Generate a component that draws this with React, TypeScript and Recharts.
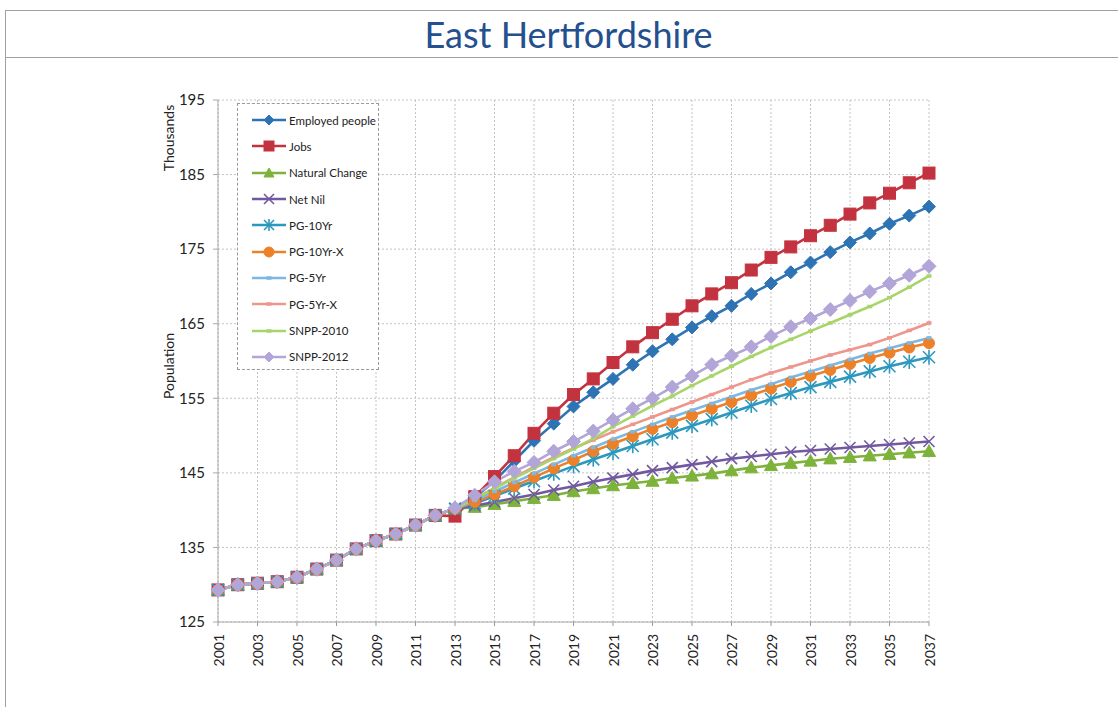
import React from 'react';
import { LineChart, Line, XAxis, YAxis, CartesianGrid } from 'recharts';

const years = [2001, 2002, 2003, 2004, 2005, 2006, 2007, 2008, 2009, 2010, 2011, 2012, 2013, 2014, 2015, 2016, 2017, 2018, 2019, 2020, 2021, 2022, 2023, 2024, 2025, 2026, 2027, 2028, 2029, 2030, 2031, 2032, 2033, 2034, 2035, 2036, 2037];
const xTicks = [2001, 2003, 2005, 2007, 2009, 2011, 2013, 2015, 2017, 2019, 2021, 2023, 2025, 2027, 2029, 2031, 2033, 2035, 2037];
const yTicks = [125, 135, 145, 155, 165, 175, 185, 195];

// 2001-2012 shared history
const historic = [129.3, 130.0, 130.2, 130.4, 131.0, 132.1, 133.3, 134.8, 135.9, 136.8, 138.0, 139.3];

// 2013-2037 projections
const employedPeople = [140.2, 141.7, 143.9, 146.6, 149.3, 151.6, 153.9, 155.8, 157.6, 159.5, 161.3, 162.9, 164.5, 166.0, 167.4, 169.0, 170.4, 171.9, 173.2, 174.6, 175.9, 177.1, 178.4, 179.5, 180.7];
const jobs = [139.2, 141.8, 144.5, 147.3, 150.3, 153.0, 155.5, 157.6, 159.8, 161.9, 163.8, 165.6, 167.4, 169.0, 170.5, 172.2, 173.9, 175.3, 176.8, 178.2, 179.7, 181.2, 182.5, 183.9, 185.2];
const naturalChange = [140.2, 140.4, 140.8, 141.2, 141.6, 142.0, 142.5, 142.9, 143.3, 143.6, 143.9, 144.3, 144.6, 144.9, 145.3, 145.7, 146.0, 146.3, 146.6, 146.9, 147.1, 147.3, 147.5, 147.7, 147.9];
const netNil = [140.2, 140.6, 141.1, 141.6, 142.1, 142.7, 143.2, 143.8, 144.3, 144.8, 145.3, 145.7, 146.1, 146.5, 146.9, 147.2, 147.5, 147.8, 148.0, 148.2, 148.4, 148.6, 148.8, 149.0, 149.2];
const pg10Yr = [140.2, 140.9, 141.9, 142.9, 143.9, 144.9, 145.9, 146.8, 147.7, 148.6, 149.5, 150.4, 151.3, 152.2, 153.1, 154.0, 154.9, 155.7, 156.5, 157.2, 157.9, 158.6, 159.3, 159.9, 160.5];
const pg10YrX = [140.2, 141.1, 142.1, 143.2, 144.4, 145.6, 146.7, 147.9, 148.9, 149.9, 150.9, 151.8, 152.7, 153.6, 154.5, 155.4, 156.3, 157.2, 158.0, 158.8, 159.6, 160.4, 161.1, 161.8, 162.4];
const pg5Yr = [140.2, 141.3, 142.5, 143.7, 144.9, 146.1, 147.3, 148.4, 149.5, 150.5, 151.5, 152.5, 153.4, 154.3, 155.2, 156.1, 156.9, 157.8, 158.6, 159.4, 160.2, 161.0, 161.7, 162.4, 163.1];
const pg5YrX = [140.2, 141.5, 143.0, 144.4, 145.8, 147.1, 148.3, 149.4, 150.5, 151.5, 152.5, 153.5, 154.5, 155.5, 156.5, 157.5, 158.4, 159.2, 160.0, 160.8, 161.5, 162.2, 163.1, 164.1, 165.1];
const snpp2010 = [140.2, 141.5, 142.9, 144.3, 145.6, 146.9, 148.2, 149.6, 151.2, 152.6, 154.0, 155.3, 156.7, 158.0, 159.3, 160.6, 161.8, 162.9, 164.0, 165.1, 166.2, 167.3, 168.5, 169.9, 171.4];
const snpp2012 = [140.3, 142.0, 143.8, 145.2, 146.4, 147.9, 149.2, 150.6, 152.1, 153.6, 155.0, 156.5, 158.0, 159.5, 160.7, 161.9, 163.3, 164.6, 165.7, 166.9, 168.1, 169.3, 170.4, 171.5, 172.7];

type Shape = 'diamond' | 'square' | 'triangle' | 'x' | 'asterisk' | 'circle' | 'dash';

const seriesList: { key: string; name: string; values: number[]; color: string; shape: Shape; size: number }[] = [
  { key: 'employed', name: 'Employed people', values: employedPeople, color: '#2E74B5', shape: 'diamond', size: 6.5 },
  { key: 'jobs', name: 'Jobs', values: jobs, color: '#C3333F', shape: 'square', size: 6 },
  { key: 'natural', name: 'Natural Change', values: naturalChange, color: '#7DB33A', shape: 'triangle', size: 6.5 },
  { key: 'netnil', name: 'Net Nil', values: netNil, color: '#7158A0', shape: 'x', size: 5.5 },
  { key: 'pg10', name: 'PG-10Yr', values: pg10Yr, color: '#2C98BE', shape: 'asterisk', size: 6 },
  { key: 'pg10x', name: 'PG-10Yr-X', values: pg10YrX, color: '#EC8129', shape: 'circle', size: 5.5 },
  { key: 'pg5', name: 'PG-5Yr', values: pg5Yr, color: '#7DB7E3', shape: 'dash', size: 2.5 },
  { key: 'pg5x', name: 'PG-5Yr-X', values: pg5YrX, color: '#EE958C', shape: 'dash', size: 2.5 },
  { key: 'snpp2010', name: 'SNPP-2010', values: snpp2010, color: '#A8D56A', shape: 'dash', size: 2.5 },
  { key: 'snpp2012', name: 'SNPP-2012', values: snpp2012, color: '#B2A6D8', shape: 'diamond', size: 7 },
];

const tableData = years.map((year, i) => {
  const row: Record<string, number> = { year };
  seriesList.forEach((s) => {
    row[s.key] = i < historic.length ? historic[i] : s.values[i - historic.length];
  });
  return row;
});

function marker(shape: Shape, color: string, s: number, cx: number, cy: number, key?: any) {
  switch (shape) {
    case 'diamond':
      return <polygon key={key} points={`${cx},${cy - s} ${cx + s},${cy} ${cx},${cy + s} ${cx - s},${cy}`} fill={color} stroke={color} strokeWidth={1} />;
    case 'square':
      return <rect key={key} x={cx - s} y={cy - s} width={2 * s} height={2 * s} fill={color} stroke={color} strokeWidth={1} />;
    case 'triangle':
      return <polygon key={key} points={`${cx},${cy - s} ${cx + s},${cy + s * 0.8} ${cx - s},${cy + s * 0.8}`} fill={color} stroke={color} strokeWidth={1} />;
    case 'x':
      return (
        <g key={key} stroke={color} strokeWidth={1.6}>
          <line x1={cx - s} y1={cy - s} x2={cx + s} y2={cy + s} />
          <line x1={cx - s} y1={cy + s} x2={cx + s} y2={cy - s} />
        </g>
      );
    case 'asterisk':
      return (
        <g key={key} stroke={color} strokeWidth={1.6}>
          <line x1={cx - s} y1={cy - s} x2={cx + s} y2={cy + s} />
          <line x1={cx - s} y1={cy + s} x2={cx + s} y2={cy - s} />
          <line x1={cx} y1={cy - s * 1.2} x2={cx} y2={cy + s * 1.2} />
        </g>
      );
    case 'circle':
      return <circle key={key} cx={cx} cy={cy} r={s} fill={color} stroke={color} strokeWidth={1} />;
    case 'dash':
    default:
      return <rect key={key} x={cx - s} y={cy - s * 0.7} width={2 * s} height={1.4 * s} fill={color} />;
  }
}

function makeDot(shape: Shape, color: string, size: number) {
  return (props: any) => {
    const { cx, cy, index } = props;
    if (cx == null || cy == null) return <g key={index} />;
    return marker(shape, color, size, cx, cy, index);
  };
}

const font = "Lato, 'Open Sans', sans-serif";

const XTick = (props: any) => {
  const { x, y, payload } = props;
  return (
    <text
      x={x}
      y={y + 6}
      transform={`rotate(-90 ${x} ${y + 6})`}
      textAnchor="end"
      dominantBaseline="central"
      fontSize={14}
      fill="#222"
      fontFamily={font}
    >
      {payload.value}
    </text>
  );
};

export default function App() {
  return (
    <div style={{ position: 'absolute', left: 0, top: 0, width: 1118, height: 707, background: '#fff', overflow: 'hidden', fontFamily: font }}>
      {/* frame lines */}
      <div style={{ position: 'absolute', left: 5, top: 10, width: 1113, height: 0, borderTop: '1px solid #a0a0a0' }} />
      <div style={{ position: 'absolute', left: 5, top: 57, width: 1113, height: 0, borderTop: '1px solid #a0a0a0' }} />
      <div style={{ position: 'absolute', left: 5, top: 10, width: 0, height: 697, borderLeft: '1px solid #a0a0a0' }} />
      {/* title */}
      <div style={{ position: 'absolute', left: 0, top: 16, width: 1137, textAlign: 'center', fontSize: 36, color: '#24508F', fontFamily: font, lineHeight: '36px', whiteSpace: 'nowrap' }}>
        East Hertfordshire
      </div>

      <div style={{ position: 'absolute', left: 0, top: 0 }}>
        <LineChart width={1118} height={707} data={tableData} margin={{ top: 100, right: 189, bottom: 35, left: 158 }}>
          <CartesianGrid stroke="#c4c4c4" strokeDasharray="2 2" />
          <XAxis
            dataKey="year"
            type="number"
            domain={[2001, 2037]}
            ticks={xTicks}
            interval={0}
            height={50}
            tick={<XTick />}
            tickLine={{ stroke: '#999' }}
            tickSize={4}
            axisLine={{ stroke: '#aaa' }}
          />
          <YAxis
            type="number"
            domain={[125, 195]}
            ticks={yTicks}
            interval={0}
            width={60}
            tick={{ fontSize: 15, fill: '#222', fontFamily: font }}
            tickLine={{ stroke: '#aaa' }}
            tickSize={5}
            tickMargin={8}
            axisLine={{ stroke: '#aaa' }}
          />
          {seriesList.map((s) => (
            <Line
              key={s.key}
              type="linear"
              dataKey={s.key}
              name={s.name}
              stroke={s.color}
              strokeWidth={2.6}
              dot={makeDot(s.shape, s.color, s.size)}
              activeDot={false}
              isAnimationActive={false}
            />
          ))}
        </LineChart>
      </div>

      {/* axis titles */}
      <div style={{ position: 'absolute', left: 168, top: 366, transform: 'translate(-50%, -50%) rotate(-90deg)', fontSize: 14, color: '#222', whiteSpace: 'nowrap', fontFamily: font }}>
        Population
      </div>
      <div style={{ position: 'absolute', left: 168, top: 138, transform: 'translate(-50%, -50%) rotate(-90deg)', fontSize: 14, color: '#222', whiteSpace: 'nowrap', fontFamily: font }}>
        Thousands
      </div>

      {/* legend */}
      <div style={{ position: 'absolute', left: 237, top: 103, width: 142, height: 267, border: '1px dashed #999', background: '#fff', boxSizing: 'border-box', paddingTop: 3 }}>
        {seriesList.map((s) => (
          <div key={s.key} style={{ display: 'flex', alignItems: 'center', height: 26.3, paddingLeft: 13 }}>
            <svg width={36} height={14} style={{ display: 'block' }}>
              <line x1={1} y1={7} x2={35} y2={7} stroke={s.color} strokeWidth={2.6} />
              {marker(s.shape, s.color, Math.min(s.size, 5), 18, 7)}
            </svg>
            <span style={{ fontSize: 11.5, color: '#222', marginLeft: 2, fontFamily: font, whiteSpace: 'nowrap' }}>{s.name}</span>
          </div>
        ))}
      </div>
    </div>
  );
}
